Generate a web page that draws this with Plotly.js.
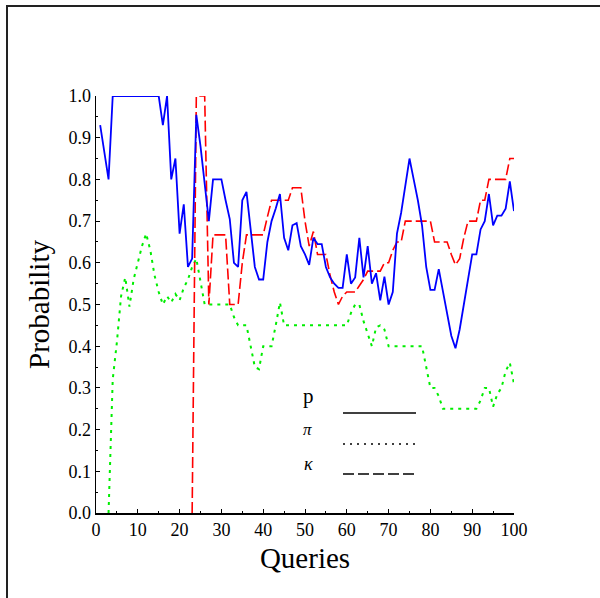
<!DOCTYPE html>
<html>
<head>
<meta charset="utf-8">
<script src="https://cdn.plot.ly/plotly-3.0.1.min.js"></script>
<style>html,body{margin:0;padding:0;background:#fff;}#chart{width:600px;height:598px;}</style>
</head>
<body>
<div id="chart"></div>
<script>
// Queries 1..100
const queries = Array.from({length: 100}, (_, i) => i + 1);

// p (solid blue)
const pValues = [
  0.93, 0.86, 0.80, 1.00, 1.00, 1.00, 1.00, 1.00, 1.00, 1.00,
  1.00, 1.00, 1.00, 1.00, 1.00, 0.93, 1.00, 0.80, 0.85, 0.67,
  0.74, 0.59, 0.61, 0.955, 0.88, 0.79, 0.70, 0.80, 0.80, 0.80,
  0.75, 0.705, 0.60, 0.59, 0.75, 0.77, 0.68, 0.59, 0.56, 0.56,
  0.65, 0.70, 0.73, 0.765, 0.66, 0.63, 0.69, 0.695, 0.64, 0.62,
  0.595, 0.66, 0.645, 0.645, 0.59, 0.565, 0.55, 0.54, 0.54, 0.62,
  0.55, 0.565, 0.66, 0.565, 0.64, 0.55, 0.575, 0.51, 0.567, 0.50,
  0.53, 0.67, 0.72, 0.785, 0.85, 0.80, 0.75, 0.69, 0.59, 0.535,
  0.535, 0.585, 0.53, 0.48, 0.425, 0.395, 0.44, 0.50, 0.56, 0.62,
  0.62, 0.68, 0.70, 0.765, 0.69, 0.713, 0.713, 0.73, 0.795, 0.724
];

// pi (dotted green)
const piValues = [
  null, null, 0.00, 0.32, 0.41, 0.52, 0.565, 0.495, 0.56, 0.60,
  0.64, 0.67, 0.63, 0.57, 0.53, 0.50, 0.52, 0.505, 0.525, 0.51,
  0.54, 0.56, 0.59, 0.61, 0.555, 0.50, 0.50, 0.50, 0.50, 0.50,
  0.50, 0.50, 0.47, 0.45, 0.45, 0.45, 0.40, 0.35, 0.345, 0.40,
  0.40, 0.40, 0.45, 0.505, 0.45, 0.45, 0.45, 0.45, 0.45, 0.45,
  0.45, 0.45, 0.45, 0.45, 0.45, 0.45, 0.45, 0.45, 0.45, 0.45,
  0.48, 0.50, 0.50, 0.46, 0.43, 0.40, 0.445, 0.45, 0.44, 0.40,
  0.40, 0.40, 0.40, 0.40, 0.40, 0.40, 0.40, 0.40, 0.35, 0.30,
  0.30, 0.28, 0.25, 0.25, 0.25, 0.25, 0.25, 0.25, 0.25, 0.25,
  0.25, 0.27, 0.30, 0.30, 0.255, 0.285, 0.30, 0.34, 0.36, 0.31
];

// kappa (dashed red)
const kappaValues = [
  null, null, null, null, null, null, null, null, null, null,
  null, null, null, null, null, null, null, null, null, null,
  null, null, 0.00, 1.00, 1.00, 1.00, 0.50, 0.667, 0.667, 0.667,
  0.667, 0.50, 0.50, 0.50, 0.60, 0.667, 0.667, 0.667, 0.667, 0.667,
  0.71, 0.75, 0.75, 0.75, 0.75, 0.75, 0.78, 0.78, 0.78, 0.70,
  0.64, 0.675, 0.62, 0.62, 0.62, 0.57, 0.53, 0.50, 0.52, 0.53,
  0.53, 0.53, 0.545, 0.56, 0.58, 0.58, 0.58, 0.58, 0.60, 0.60,
  0.63, 0.65, 0.65, 0.70, 0.70, 0.70, 0.70, 0.70, 0.70, 0.70,
  0.65, 0.65, 0.65, 0.65, 0.62, 0.595, 0.61, 0.66, 0.70, 0.70,
  0.70, 0.75, 0.75, 0.80, 0.80, 0.80, 0.80, 0.80, 0.85, 0.85
];

const legendLabels = ['p', '\u03c0', '\u03ba'];

const serif = '"Liberation Serif", "Times New Roman", serif';

const traces = [
  {x: queries, y: piValues, mode: 'lines', line: {color: '#00ee00', width: 2, dash: '3px,5px'}, connectgaps: false, showlegend: false},
  {x: queries, y: kappaValues, mode: 'lines', line: {color: '#ff0000', width: 1.6, dash: '11px,4px'}, connectgaps: false, showlegend: false},
  {x: queries, y: pValues, mode: 'lines', line: {color: '#0000ff', width: 1.8}, showlegend: false}
];

function px2paperX(px) { return (px - 96) / 418; }
function px2paperY(py) { return (513 - py) / 417; }

const shapes = [
  {type: 'line', xref: 'paper', yref: 'paper', x0: px2paperX(6), x1: px2paperX(601), y0: px2paperY(6), y1: px2paperY(6), line: {color: '#222', width: 2}},
  {type: 'line', xref: 'paper', yref: 'paper', x0: px2paperX(7), x1: px2paperX(7), y0: px2paperY(6), y1: px2paperY(600), line: {color: '#222', width: 2}},
  {type: 'line', xref: 'paper', yref: 'paper', x0: px2paperX(343), x1: px2paperX(416), y0: px2paperY(413), y1: px2paperY(413), line: {color: '#000', width: 1.5}},
  {type: 'line', xref: 'paper', yref: 'paper', x0: px2paperX(343), x1: px2paperX(416), y0: px2paperY(444), y1: px2paperY(444), line: {color: '#000', width: 1.5, dash: '2px,5px'}},
  {type: 'line', xref: 'paper', yref: 'paper', x0: px2paperX(343), x1: px2paperX(416), y0: px2paperY(474), y1: px2paperY(474), line: {color: '#000', width: 1.5, dash: '11px,4px'}}
];

const annotations = [
  {xref: 'paper', yref: 'paper', x: px2paperX(308), y: px2paperY(410), text: legendLabels[0], showarrow: false, font: {family: serif, size: 21, color: '#000'}},
  {xref: 'paper', yref: 'paper', x: px2paperX(307), y: px2paperY(441), text: '<i>' + legendLabels[1] + '</i>', showarrow: false, font: {family: serif, size: 17, color: '#000'}},
  {xref: 'paper', yref: 'paper', x: px2paperX(308), y: px2paperY(476), text: '<i>' + legendLabels[2] + '</i>', showarrow: false, font: {family: serif, size: 18, color: '#000'}}
];

const layout = {
  width: 600, height: 598,
  margin: {l: 96, r: 86, t: 96, b: 85},
  paper_bgcolor: '#fff', plot_bgcolor: '#fff',
  font: {family: serif, color: '#000'},
  xaxis: {
    range: [0, 100], dtick: 10, tick0: 0,
    ticks: 'inside', ticklen: 4, tickwidth: 1, tickcolor: '#000',
    minor: {dtick: 5, ticks: 'inside', ticklen: 2, tickcolor: '#000', showgrid: false},
    showline: true, linecolor: '#000', linewidth: 1.5,
    showgrid: false, zeroline: false, mirror: false,
    tickfont: {family: serif, size: 18, color: '#000'},
    title: {text: 'Queries', font: {family: serif, size: 29, color: '#000'}, standoff: 8}
  },
  yaxis: {
    range: [0, 1], dtick: 0.1, tick0: 0, tickformat: '.1f',
    ticks: 'inside', ticklen: 4, tickwidth: 1, tickcolor: '#000',
    minor: {dtick: 0.05, ticks: 'inside', ticklen: 2, tickcolor: '#000', showgrid: false},
    showline: true, linecolor: '#000', linewidth: 1.5,
    showgrid: false, zeroline: false, mirror: false,
    tickfont: {family: serif, size: 18, color: '#000'},
    title: {text: 'Probability', font: {family: serif, size: 29, color: '#000'}, standoff: 10}
  },
  shapes: shapes,
  annotations: annotations,
  showlegend: false
};

Plotly.newPlot('chart', traces, layout, {staticPlot: true, displayModeBar: false});
</script>
</body>
</html>
